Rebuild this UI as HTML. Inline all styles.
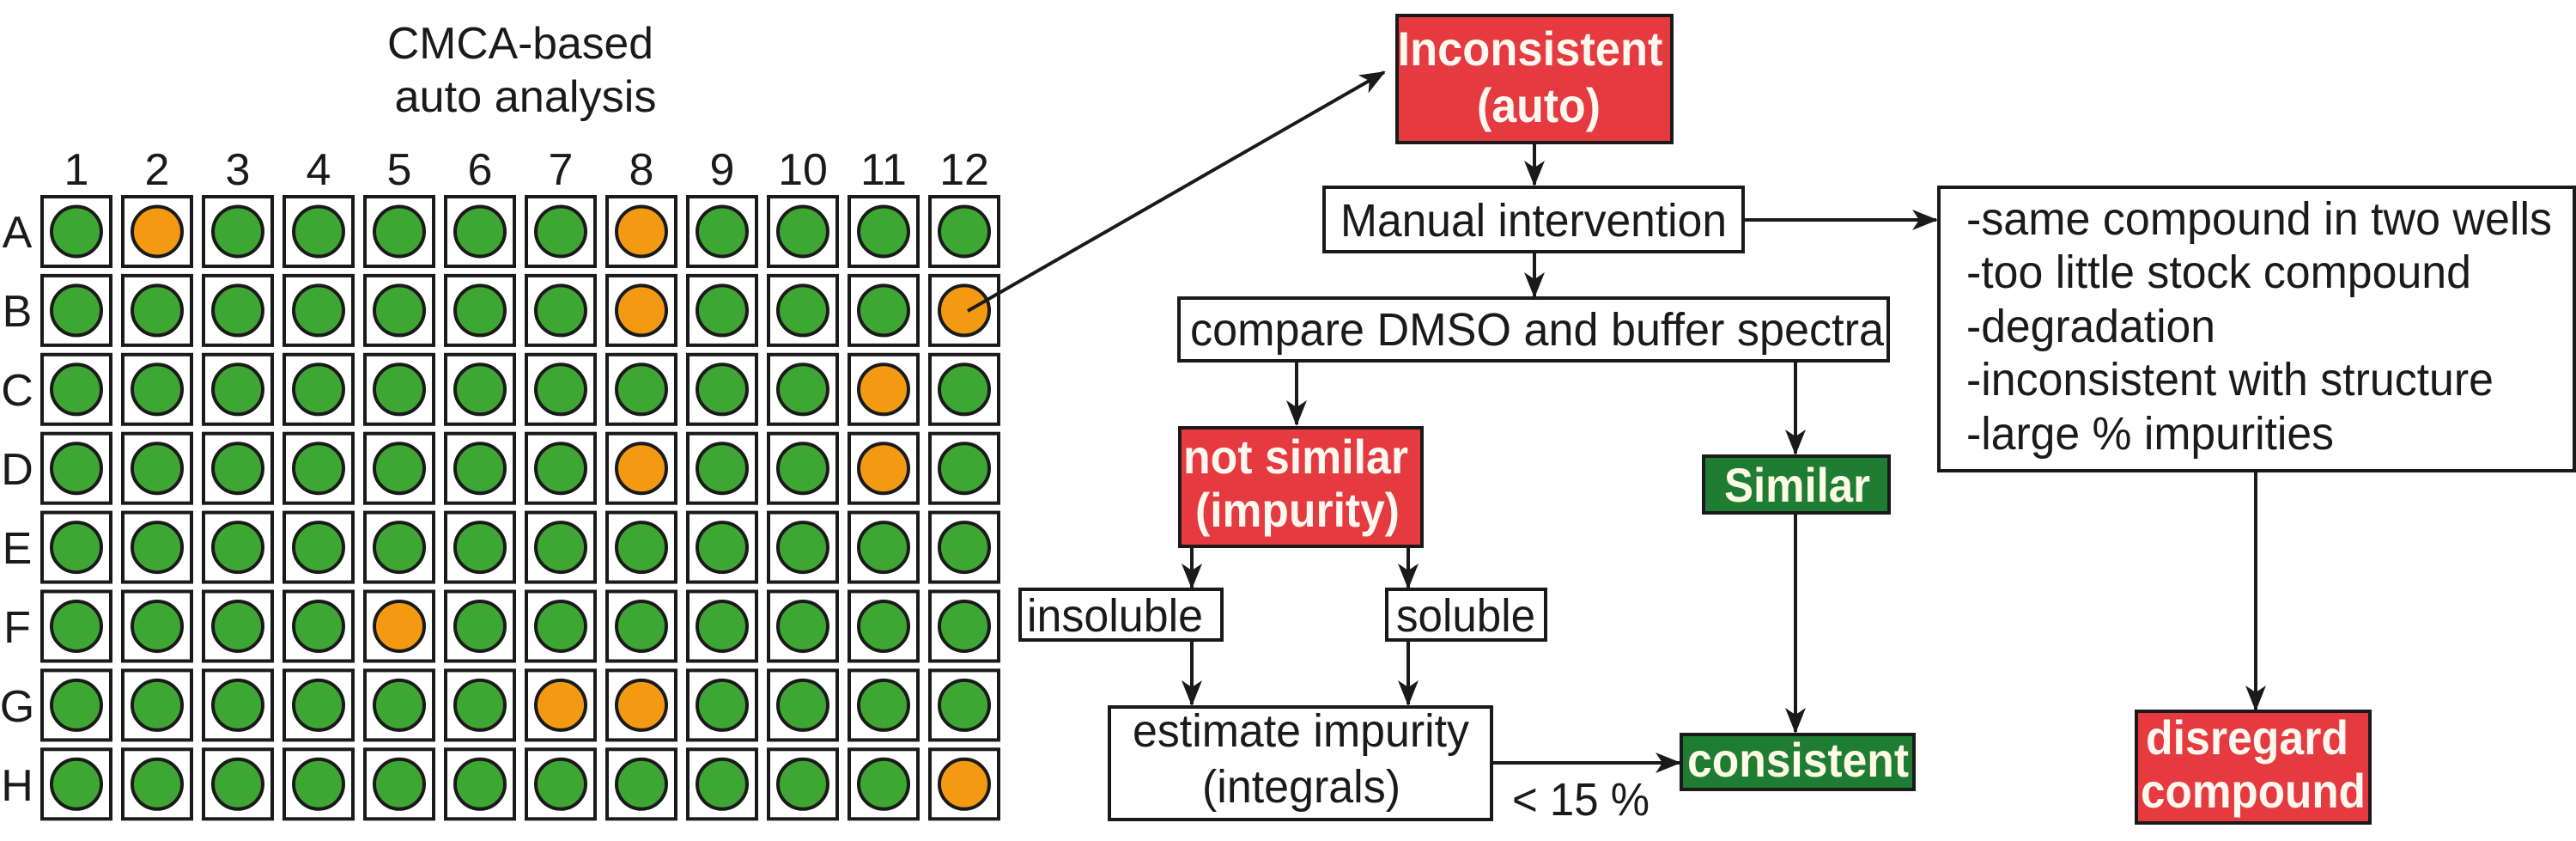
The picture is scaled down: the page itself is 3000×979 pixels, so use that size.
<!DOCTYPE html>
<html><head><meta charset="utf-8"><style>
html,body{margin:0;padding:0;background:#fff;}
svg{display:block;}
text{font-family:"Liberation Sans",Arial,sans-serif;}
</style></head><body>
<svg width="3000" height="979" viewBox="0 0 3000 979" xmlns="http://www.w3.org/2000/svg">
<defs>
<marker id="ah" markerWidth="30" markerHeight="24" refX="28" refY="12" orient="auto" markerUnits="userSpaceOnUse">
<path d="M0,0 L30,12 L0,24 L8,12 Z" fill="#1a1a1a"/>
</marker>
</defs>
<rect width="3000" height="979" fill="#fff"/>

<text x="606" y="68" font-size="52" text-anchor="middle" fill="#1a1a1a" textLength="310" lengthAdjust="spacingAndGlyphs">CMCA-based</text>
<text x="612" y="130" font-size="52" text-anchor="middle" fill="#1a1a1a" textLength="305" lengthAdjust="spacingAndGlyphs">auto analysis</text>

<g id="plate" fill="#1a1a1a" font-size="52" text-anchor="middle">
<text x="89" y="215">1</text><text x="183" y="215">2</text><text x="277" y="215">3</text><text x="371" y="215">4</text>
<text x="465" y="215">5</text><text x="559" y="215">6</text><text x="653" y="215">7</text><text x="747" y="215">8</text>
<text x="841" y="215">9</text><text x="935" y="215">10</text><text x="1029" y="215">11</text><text x="1123" y="215">12</text>
<text x="20" y="288">A</text><text x="20" y="380">B</text><text x="20" y="472">C</text><text x="20" y="564">D</text>
<text x="20" y="656">E</text><text x="20" y="748">F</text><text x="20" y="840">G</text><text x="20" y="932">H</text>
</g>
<g id="wells"></g>

<line x1="1127" y1="362" x2="1612" y2="84" stroke="#1a1a1a" stroke-width="4" marker-end="url(#ah)"/>

<rect x="1627" y="18" width="320" height="148" fill="#e53a40" stroke="#1a1a1a" stroke-width="4"/>
<text x="1782" y="76" font-size="56" font-weight="bold" fill="#fff8f0" text-anchor="middle" textLength="309" lengthAdjust="spacingAndGlyphs">Inconsistent</text>
<text x="1792" y="142" font-size="56" font-weight="bold" fill="#fff8f0" text-anchor="middle" textLength="144" lengthAdjust="spacingAndGlyphs">(auto)</text>
<line x1="1787" y1="168" x2="1787" y2="215" stroke="#1a1a1a" stroke-width="4" marker-end="url(#ah)"/>

<rect x="1542" y="218" width="488" height="75" fill="#fff" stroke="#1a1a1a" stroke-width="4"/>
<text x="1561" y="275" font-size="54" fill="#1a1a1a" textLength="450" lengthAdjust="spacingAndGlyphs">Manual intervention</text>
<line x1="2032" y1="256" x2="2255" y2="256" stroke="#1a1a1a" stroke-width="4" marker-end="url(#ah)"/>
<line x1="1787" y1="295" x2="1787" y2="345" stroke="#1a1a1a" stroke-width="4" marker-end="url(#ah)"/>

<rect x="2258" y="218" width="740" height="330" fill="#fff" stroke="#1a1a1a" stroke-width="4"/>
<g font-size="54" fill="#1a1a1a">
<text x="2290" y="273" textLength="682" lengthAdjust="spacingAndGlyphs">-same compound in two wells</text>
<text x="2290" y="335" textLength="588" lengthAdjust="spacingAndGlyphs">-too little stock compound</text>
<text x="2290" y="398" textLength="290" lengthAdjust="spacingAndGlyphs">-degradation</text>
<text x="2290" y="460" textLength="614" lengthAdjust="spacingAndGlyphs">-inconsistent with structure</text>
<text x="2290" y="523" textLength="428" lengthAdjust="spacingAndGlyphs">-large % impurities</text>
</g>
<line x1="2627" y1="550" x2="2627" y2="826" stroke="#1a1a1a" stroke-width="4" marker-end="url(#ah)"/>

<rect x="2488" y="828" width="272" height="130" fill="#e53a40" stroke="#1a1a1a" stroke-width="4"/>
<text x="2617" y="878" font-size="56" font-weight="bold" fill="#fff8f0" text-anchor="middle" textLength="236" lengthAdjust="spacingAndGlyphs">disregard</text>
<text x="2624" y="940" font-size="56" font-weight="bold" fill="#fff8f0" text-anchor="middle" textLength="262" lengthAdjust="spacingAndGlyphs">compound</text>

<rect x="1373" y="347" width="826" height="73" fill="#fff" stroke="#1a1a1a" stroke-width="4"/>
<text x="1386" y="402" font-size="54" fill="#1a1a1a" textLength="808" lengthAdjust="spacingAndGlyphs">compare DMSO and buffer spectra</text>
<line x1="1510" y1="422" x2="1510" y2="494" stroke="#1a1a1a" stroke-width="4" marker-end="url(#ah)"/>
<line x1="2091" y1="422" x2="2091" y2="528" stroke="#1a1a1a" stroke-width="4" marker-end="url(#ah)"/>

<rect x="1374" y="498" width="282" height="138" fill="#e53a40" stroke="#1a1a1a" stroke-width="4"/>
<text x="1509" y="551" font-size="56" font-weight="bold" fill="#fff8f0" text-anchor="middle" textLength="262" lengthAdjust="spacingAndGlyphs">not similar</text>
<text x="1511" y="613" font-size="56" font-weight="bold" fill="#fff8f0" text-anchor="middle" textLength="238" lengthAdjust="spacingAndGlyphs">(impurity)</text>

<rect x="1984" y="531" width="216" height="66" fill="#1e7d32" stroke="#1a1a1a" stroke-width="4"/>
<text x="2093" y="584" font-size="56" font-weight="bold" fill="#fffbe6" text-anchor="middle" textLength="170" lengthAdjust="spacingAndGlyphs">Similar</text>
<line x1="2091" y1="599" x2="2091" y2="852" stroke="#1a1a1a" stroke-width="4" marker-end="url(#ah)"/>

<line x1="1388" y1="638" x2="1388" y2="684" stroke="#1a1a1a" stroke-width="4" marker-end="url(#ah)"/>
<line x1="1640" y1="638" x2="1640" y2="684" stroke="#1a1a1a" stroke-width="4" marker-end="url(#ah)"/>
<rect x="1188" y="686" width="235" height="59" fill="#fff" stroke="#1a1a1a" stroke-width="4"/>
<text x="1196" y="735" font-size="54" fill="#1a1a1a" textLength="205" lengthAdjust="spacingAndGlyphs">insoluble</text>
<rect x="1615" y="686" width="185" height="59" fill="#fff" stroke="#1a1a1a" stroke-width="4"/>
<text x="1626" y="735" font-size="54" fill="#1a1a1a" textLength="162" lengthAdjust="spacingAndGlyphs">soluble</text>
<line x1="1388" y1="747" x2="1388" y2="820" stroke="#1a1a1a" stroke-width="4" marker-end="url(#ah)"/>
<line x1="1640" y1="747" x2="1640" y2="820" stroke="#1a1a1a" stroke-width="4" marker-end="url(#ah)"/>

<rect x="1292" y="823" width="445" height="131" fill="#fff" stroke="#1a1a1a" stroke-width="4"/>
<text x="1319" y="869" font-size="54" fill="#1a1a1a" textLength="392" lengthAdjust="spacingAndGlyphs">estimate impurity</text>
<text x="1400" y="934" font-size="54" fill="#1a1a1a" textLength="231" lengthAdjust="spacingAndGlyphs">(integrals)</text>
<line x1="1739" y1="888" x2="1956" y2="888" stroke="#1a1a1a" stroke-width="4" marker-end="url(#ah)"/>
<text x="1761" y="949" font-size="54" fill="#1a1a1a" textLength="160" lengthAdjust="spacingAndGlyphs">&lt; 15 %</text>

<rect x="1958" y="855" width="271" height="64" fill="#1e7d32" stroke="#1a1a1a" stroke-width="4"/>
<text x="2094" y="904" font-size="56" font-weight="bold" fill="#fffbe6" text-anchor="middle" textLength="258" lengthAdjust="spacingAndGlyphs">consistent</text>
</svg>
<script>
(function(){
var orange={"0,1":1,"0,7":1,"1,7":1,"1,11":1,"2,10":1,"3,7":1,"3,10":1,"5,4":1,"6,6":1,"6,7":1,"7,11":1};
var g=document.getElementById('wells'),s="";
for(var r=0;r<8;r++)for(var c=0;c<12;c++){
var x=47+c*94,y=227+r*91.9;
s+='<rect x="'+(x+2)+'" y="'+(y+2)+'" width="80" height="81" fill="#fff" stroke="#1a1a1a" stroke-width="4"/>';
s+='<circle cx="'+(x+42)+'" cy="'+(y+42.5)+'" r="29" fill="'+(orange[r+","+c]?"#f39a12":"#3ea632")+'" stroke="#1a1a1a" stroke-width="4"/>';
}
g.innerHTML=s;
})();
</script>
</body></html>
